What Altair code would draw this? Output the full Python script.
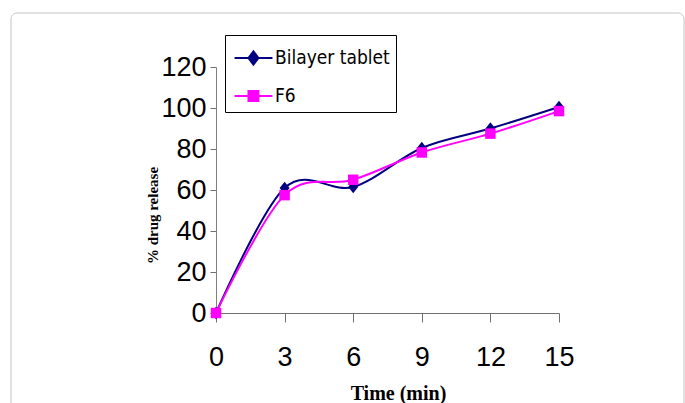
import altair as alt
import pandas as pd

times = [0, 3, 6, 9, 12, 15]
bilayer = [0, 61, 61.5, 80.5, 90, 100.5]
f6 = [0, 57.5, 65, 78.3, 87.5, 98.5]
series_names = ["Bilayer tablet", "F6"]
series_colors = ["#000080", "#FF00FF"]
y_ticks = [0, 20, 40, 60, 80, 100, 120]
x_ticks = [0, 3, 6, 9, 12, 15]

rows = []
for t, v in zip(times, bilayer):
    rows.append({"time": t, "release": v, "series": series_names[0]})
for t, v in zip(times, f6):
    rows.append({"time": t, "release": v, "series": series_names[1]})
df = pd.DataFrame(rows)

diamond_path = "M0,-1.15L0.9,0L0,1.15L-0.9,0Z"
legend_paths = [
    "M-0.84,0H1.53M0.34,-0.41L0.65,0L0.34,0.41L0.03,0Z",
    "M-0.84,0H1.53M0.03,-0.31H0.65V0.31H0.03Z",
]

x_enc = alt.X(
    "time:Q",
    scale=alt.Scale(domain=[0, 15], nice=False),
    axis=alt.Axis(
        values=x_ticks, grid=False, domainColor="#707070", tickColor="#707070",
        tickSize=9, labelFont="Liberation Sans", labelFontSize=27, labelColor="black",
        labelPadding=22, labelFlush=False, title="Time (min)", titleFont="Liberation Serif",
        titleFontWeight="bold", titleFontSize=20, titleColor="black",
        titleX=182, titleY=86, titleBaseline="alphabetic",
    ),
)
y_enc = alt.Y(
    "release:Q",
    scale=alt.Scale(domain=[0, 120], nice=False),
    axis=alt.Axis(
        values=y_ticks, grid=False, domainColor="#808080", tickColor="#707070",
        tickSize=6, labelFont="Liberation Sans", labelFontSize=27, labelColor="black",
        labelPadding=4, labelFlush=False, title="% drug release", titleFont="Liberation Serif",
        titleFontWeight="bold", titleFontSize=15, titleColor="black",
        titleX=-64, titleY=148, titleBaseline="middle",
    ),
)

base = alt.Chart(df)

frame = alt.Chart(alt.Data(values=[{"frame": 1}])).mark_rect(
    filled=False, stroke="#c4c4c4", strokeWidth=1, cornerRadius=6
).encode(
    x=alt.value(-205), x2=alt.value(468), y=alt.value(-54), y2=alt.value(360)
)

layers = [frame]
for name, col in zip(series_names, series_colors):
    layers.append(
        base.transform_filter(alt.datum.series == name)
        .mark_line(interpolate="cardinal", strokeWidth=2, color=col)
        .encode(x=x_enc, y=y_enc)
    )

pts_b = base.transform_filter(alt.datum.series == series_names[0]).mark_point(
    filled=True, shape=diamond_path, size=121, opacity=1, color=series_colors[0]
).encode(x=x_enc, y=y_enc)

pts_f = base.transform_filter(alt.datum.series == series_names[1]).mark_point(
    filled=True, shape="square", size=110, opacity=1, color=series_colors[1]
).encode(x=x_enc, y=y_enc)

leg = alt.Legend(
    title=None, orient="none", legendX=9, legendY=-32, direction="vertical",
    fillColor="white", strokeColor="black", padding=6, symbolSize=1024,
    symbolStrokeWidth=2, symbolOpacity=1,
    labelFont="Liberation Sans Narrow, DejaVu Sans Condensed, Liberation Sans",
    labelFontSize=19, labelColor="black", labelOffset=10, rowPadding=10,
    labelLimit=300,
)
legend_layer = base.transform_filter(alt.datum.release < -1).mark_point(
    filled=True
).encode(
    x=x_enc, y=y_enc,
    fill=alt.Fill("series:N", scale=alt.Scale(domain=series_names, range=series_colors), legend=leg),
    stroke=alt.Stroke("series:N", scale=alt.Scale(domain=series_names, range=series_colors), legend=leg),
    shape=alt.Shape("series:N", scale=alt.Scale(domain=series_names, range=legend_paths), legend=leg),
)

layers += [pts_b, pts_f, legend_layer]

chart = alt.layer(*layers).properties(
    width=343, height=246, autosize="none",
    padding={"left": 216, "top": 67, "right": 126, "bottom": 90},
    background="white",
).configure_view(strokeWidth=0)

chart.save("out.html", embed_options={"renderer": "svg", "actions": False})
